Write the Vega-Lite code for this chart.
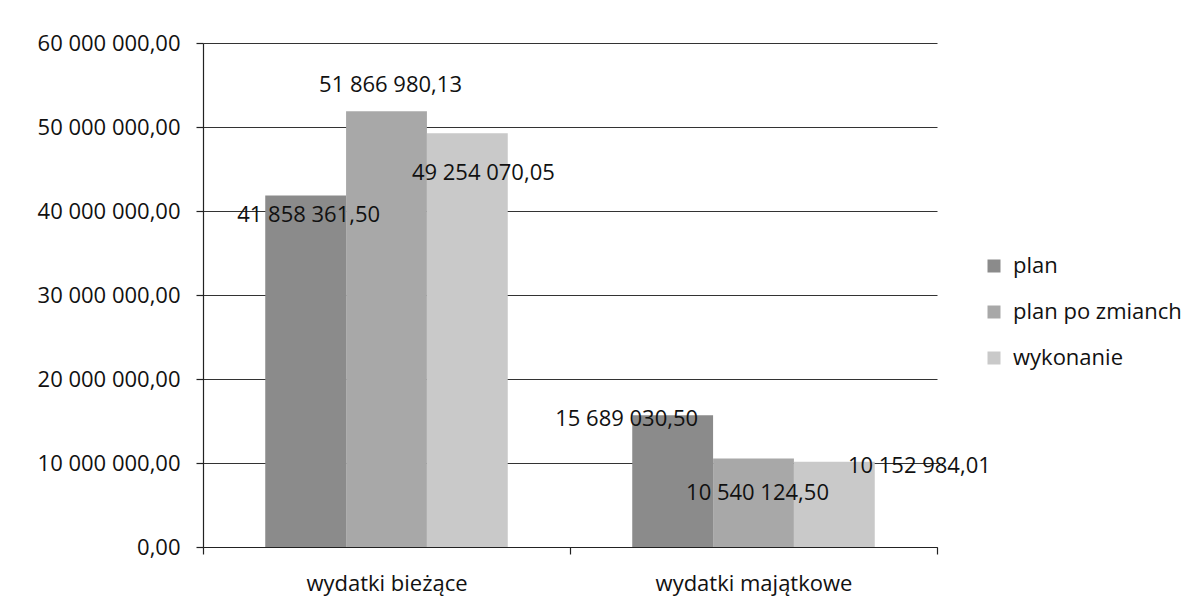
{
  "$schema": "https://vega.github.io/schema/vega-lite/v6.json",
  "width": 734,
  "height": 504,
  "autosize": {"type": "none"},
  "padding": {"left": 203, "top": 43, "right": 252, "bottom": 62},
  "background": "white",
  "config": {
    "locale": {"number": {"decimal": ",", "thousands": " ", "grouping": [3], "currency": ["", " zł"]}},
    "font": "Open Sans",
    "view": {"stroke": null},
    "axis": {"labelFont": "Open Sans", "labelFontSize": 22, "labelColor": "#111111", "domainColor": "#222222", "tickColor": "#222222", "title": null, "labelLimit": 0}
  },
  "data": {
    "values": [
      {"kategoria": "wydatki bieżące", "seria": "plan", "wartosc": 41858361.50},
      {"kategoria": "wydatki bieżące", "seria": "plan po zmianch", "wartosc": 51866980.13},
      {"kategoria": "wydatki bieżące", "seria": "wykonanie", "wartosc": 49254070.05},
      {"kategoria": "wydatki majątkowe", "seria": "plan", "wartosc": 15689030.50},
      {"kategoria": "wydatki majątkowe", "seria": "plan po zmianch", "wartosc": 10540124.50},
      {"kategoria": "wydatki majątkowe", "seria": "wykonanie", "wartosc": 10152984.01}
    ]
  },
  "encoding": {
    "x": {
      "field": "kategoria", "type": "nominal", "sort": null,
      "scale": {"paddingInner": 0, "paddingOuter": 0},
      "axis": {"labelAngle": 0, "tickBand": "extent", "tickSize": 7, "labelPadding": 19, "domainWidth": 1.2, "tickWidth": 1.2, "grid": false, "labelLimit": 0}
    },
    "xOffset": {"field": "seria", "type": "nominal", "sort": ["plan", "plan po zmianch", "wykonanie"], "scale": {"paddingInner": 0, "paddingOuter": 0.77}},
    "y": {
      "field": "wartosc", "type": "quantitative",
      "scale": {"domain": [0, 60000000], "nice": false},
      "axis": {"values": [0, 10000000, 20000000, 30000000, 40000000, 50000000, 60000000], "format": ",.2f", "tickSize": 7, "labelPadding": 16, "grid": true, "gridColor": "#333333", "gridWidth": 1, "domainWidth": 1.2, "tickWidth": 1.2}
    }
  },
  "layer": [
    {
      "mark": {"type": "bar"},
      "encoding": {
        "color": {
          "field": "seria", "type": "nominal",
          "sort": ["plan", "plan po zmianch", "wykonanie"],
          "scale": {"domain": ["plan", "plan po zmianch", "wykonanie"], "range": ["#8b8b8b", "#a8a8a8", "#c9c9c9"]},
          "legend": {
            "title": null, "orient": "none", "legendX": 780, "legendY": 212,
            "symbolType": "square", "symbolSize": 169, "symbolStrokeWidth": 0,
            "labelFont": "Open Sans", "labelFontSize": 22, "labelColor": "#111111", "labelLimit": 0,
            "rowPadding": 24, "labelOffset": 8, "padding": 0
          }
        }
      }
    },
    {
      "transform": [{"filter": "datum.kategoria === 'wydatki bieżące' && datum.seria === 'plan'"}],
      "mark": {"type": "text", "fontSize": 22, "font": "Open Sans", "color": "#111111", "align": "center", "baseline": "middle", "dx": 3, "dy": 20},
      "encoding": {"text": {"field": "wartosc", "type": "quantitative", "format": ",.2f"}}
    },
    {
      "transform": [{"filter": "datum.kategoria === 'wydatki bieżące' && datum.seria === 'plan po zmianch'"}],
      "mark": {"type": "text", "fontSize": 22, "font": "Open Sans", "color": "#111111", "align": "center", "baseline": "middle", "dx": 4, "dy": -26},
      "encoding": {"text": {"field": "wartosc", "type": "quantitative", "format": ",.2f"}}
    },
    {
      "transform": [{"filter": "datum.kategoria === 'wydatki bieżące' && datum.seria === 'wykonanie'"}],
      "mark": {"type": "text", "fontSize": 22, "font": "Open Sans", "color": "#111111", "align": "center", "baseline": "middle", "dx": 16, "dy": 40},
      "encoding": {"text": {"field": "wartosc", "type": "quantitative", "format": ",.2f"}}
    },
    {
      "transform": [{"filter": "datum.kategoria === 'wydatki majątkowe' && datum.seria === 'plan'"}],
      "mark": {"type": "text", "fontSize": 22, "font": "Open Sans", "color": "#111111", "align": "center", "baseline": "middle", "dx": -46, "dy": 4},
      "encoding": {"text": {"field": "wartosc", "type": "quantitative", "format": ",.2f"}}
    },
    {
      "transform": [{"filter": "datum.kategoria === 'wydatki majątkowe' && datum.seria === 'plan po zmianch'"}],
      "mark": {"type": "text", "fontSize": 22, "font": "Open Sans", "color": "#111111", "align": "center", "baseline": "middle", "dx": 4, "dy": 35},
      "encoding": {"text": {"field": "wartosc", "type": "quantitative", "format": ",.2f"}}
    },
    {
      "transform": [{"filter": "datum.kategoria === 'wydatki majątkowe' && datum.seria === 'wykonanie'"}],
      "mark": {"type": "text", "fontSize": 22, "font": "Open Sans", "color": "#111111", "align": "center", "baseline": "middle", "dx": 85, "dy": 4},
      "encoding": {"text": {"field": "wartosc", "type": "quantitative", "format": ",.2f"}}
    }
  ]
}
